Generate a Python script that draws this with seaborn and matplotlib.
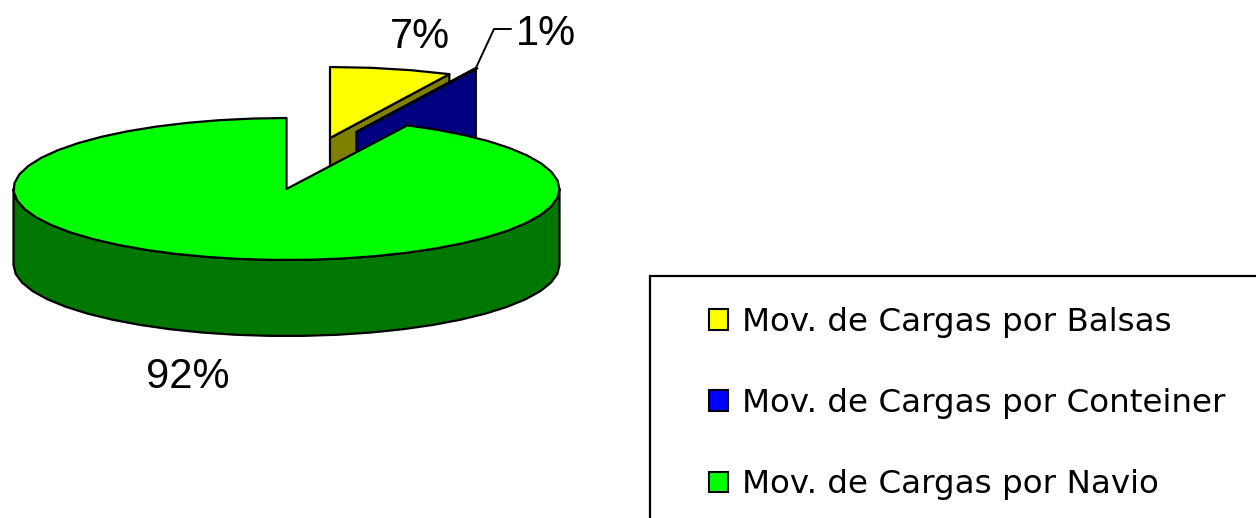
import numpy as np
import matplotlib
matplotlib.use("Agg")
import matplotlib.pyplot as plt
from matplotlib.patches import Patch, Rectangle
import seaborn as sns

categories = ["Mov. de Cargas por Balsas", "Mov. de Cargas por Conteiner", "Mov. de Cargas por Navio"]
shares = [7.2, 0.1, 92.7]          # slice sizes
pct_labels = ["7%", "1%", "92%"]
top_colors = ["#FFFF00", "#0000FF", "#00FF00"]
side_colors = ["#808000", "#000080", "#007800"]

sns.set_theme(style="white")
plt.rcParams["font.family"] = ["DejaVu Sans"]

W, H = 1256, 518
fig = plt.figure(figsize=(W / 100, H / 100), dpi=100)
ax = fig.add_axes([0, 0, 1, 1])
ax.set_xlim(0, W)
ax.set_ylim(H, 0)
ax.axis("off")

RX, RY, DEPTH = 273, 71, 76
centers = [(330, 138), (356.5, 132), (286.5, 189)]
LW = 1.6
edges = np.cumsum([0] + shares) / 100 * 360


def rim(c, a0, a1, step=7.0):
    n = max(int(abs(a1 - a0) / step), 1) + 1
    t = np.radians(np.linspace(a0, a1, n))
    return c[0] + RX * np.sin(t), c[1] - RY * np.cos(t)


def poly(xs, ys, color, z):
    ax.fill(xs, ys, facecolor=color, edgecolor="black", lw=LW, joinstyle="round", zorder=z)


# Balsas: cut face then top
c = centers[0]
a0, a1 = edges[0], edges[1]
x, y = rim(c, a1, a1)
tx, ty = x[-1], y[-1]
poly([c[0], tx, tx, c[0]], [c[1], ty, ty + DEPTH, c[1] + DEPTH], side_colors[0], 1)
x, y = rim(c, a0, a1)
poly(np.r_[c[0], x], np.r_[c[1], y], top_colors[0], 2)

# Conteiner: cut face then top
c = centers[1]
a0, a1 = edges[1], edges[2]
x, y = rim(c, a0, a0)
tx, ty = x[-1], y[-1]
poly([c[0], tx, tx, c[0]], [c[1], ty, ty + DEPTH, c[1] + DEPTH], side_colors[1], 3)
x, y = rim(c, a0, a1)
poly(np.r_[c[0], x], np.r_[c[1], y], top_colors[1], 4)

# Navio: outer wall then top
c = centers[2]
a0, a1 = edges[2], edges[3]
x, y = rim(c, 90, 270)
poly(np.r_[x, x[::-1]], np.r_[y, y[::-1] + DEPTH], side_colors[2], 5)
x, y = rim(c, a0, a1)
poly(np.r_[c[0], x], np.r_[c[1], y], top_colors[2], 6)

# Percentage labels and leader line
label_pos = [(420, 37), (546, 34), (188, 377)]
for lab, (lx, ly) in zip(pct_labels, label_pos):
    ax.text(lx, ly, lab, ha="center", va="center", fontsize=30,
            family="Liberation Sans", color="black", zorder=10)
tip = rim(centers[1], edges[1], edges[1])
ax.plot([tip[0][-1], 494, 511], [tip[1][-1], 29, 29], color="black", lw=1.4, zorder=7)

# Legend
ax.add_patch(Rectangle((650, 276), 700, 300, facecolor="white", edgecolor="black", lw=1.6, zorder=0))
handles = [Patch(facecolor=col, edgecolor="black", lw=1.5) for col in top_colors]
ax.legend(handles, categories, loc="upper left", bbox_to_anchor=(709, 307),
          bbox_transform=ax.transData, frameon=False, borderpad=0, borderaxespad=0,
          fontsize=23.4, handlelength=0.58, handleheight=0.58, handletextpad=0.42,
          labelspacing=1.54, labelcolor="black")

fig.savefig("out.png", dpi=100)
